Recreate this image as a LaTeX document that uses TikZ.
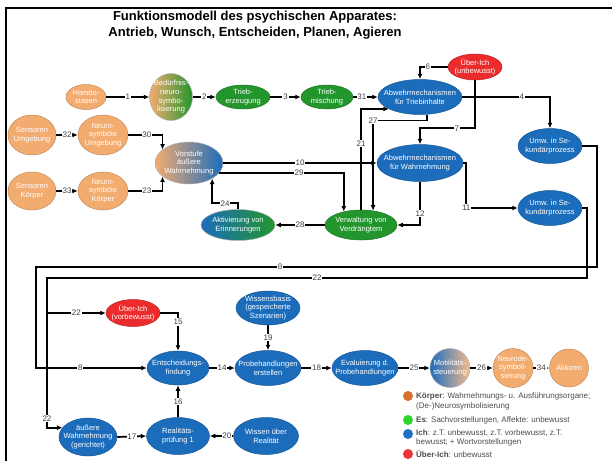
\documentclass[tikz,border=0pt]{standalone}
\usepackage{fontspec}
\setmainfont{Liberation Sans}
\usetikzlibrary{shapes.geometric,arrows.meta,calc}

\definecolor{ichblue}{RGB}{28,108,188}
\definecolor{esgreen}{RGB}{34,150,44}
\definecolor{peach}{RGB}{243,172,112}
\definecolor{ueberred}{RGB}{236,44,44}
\definecolor{legorange}{RGB}{214,112,40}
\definecolor{leggreen}{RGB}{46,214,46}
\definecolor{legblue}{RGB}{30,112,196}
\definecolor{legred}{RGB}{236,52,52}

% name, x, y, width, height, style, text
\newcommand\bubble[7]{\node[#6, minimum width=#4, minimum height=#5, label={[btxt]center:{#7}}] (#1) at (#2,#3) {};}

\begin{document}
\begin{tikzpicture}[x=1pt, y=-1pt,
  bub/.style={ellipse, inner sep=0pt, line width=0.5pt},
  sBody/.style={bub, fill=peach, draw=peach!80!black},
  sEs/.style={bub, fill=esgreen, draw=esgreen!80!black},
  sIch/.style={bub, fill=ichblue, draw=ichblue!80!black},
  sUeber/.style={bub, fill=ueberred, draw=ueberred!80!black},
  sBodyEs/.style={bub, left color=peach, right color=esgreen, draw=black!30},
  sBodyIch/.style={bub, left color=peach, right color=ichblue, draw=black!30},
  sIchBody/.style={bub, left color=ichblue, right color=peach!80!white, draw=black!30},
  sIchEs/.style={bub, left color=ichblue, right color=esgreen, draw=black!30},
  btxt/.style={text=white, align=center, inner sep=0pt, font=\fontsize{7.5}{8.7}\selectfont},
  conn/.style={line width=1.7pt, -{Latex[length=5.5pt,width=5pt]}},
  elab/.style={fill=white, inner sep=0.8pt, text=black!75, font=\fontsize{8}{9}\selectfont},
  legdot/.style={circle, inner sep=0pt, minimum size=10pt},
  legtxt/.style={anchor=west, inner sep=0pt, text=black!70, font=\fontsize{8}{9}\selectfont},
]
\useasboundingbox (0,0) rectangle (612,461);
\fill[white] (0,0) rectangle (612,461);

% frame
\draw[line width=2pt] (5.5,461) -- (5.5,8) -- (612,8);

% title
\node[font=\bfseries\fontsize{13}{16}\selectfont, align=center] (title) at (255,25)
  {Funktionsmodell des psychischen Apparates:\\Antrieb, Wunsch, Entscheiden, Planen, Agieren};

% upper part: drives and defence
\bubble{homo}{86}{97}{40}{25}{sBody}{Homöo-\\stasen}
\bubble{bed}{171}{97}{43}{47}{sBodyEs}{Bedürfnis-\\neuro-\\symbo-\\lisierung}
\bubble{te}{243}{97}{54}{24}{sEs}{Trieb-\\erzeugung}
\bubble{tm}{327}{97}{52}{24}{sEs}{Trieb-\\mischung}
\bubble{abt}{420}{97}{84}{35}{sIch}{Abwehrmechanismen\\für Triebinhalte}
\bubble{ui}{475}{67}{54}{26}{sUeber}{Über-Ich\\(unbewusst)}
\bubble{us1}{550}{146}{64}{35}{sIch}{Umw. in Se-\\kundärprozess}
\bubble{abw}{420}{163}{86}{37}{sIch}{Abwehrmechanismen\\für Wahrnehmung}
\bubble{us2}{550}{208}{64}{35}{sIch}{Umw. in Se-\\kundärprozess}
\bubble{ver}{361}{225}{72}{30}{sEs}{Verwaltung von\\Verdrängtem}
\bubble{akt}{238}{225}{74}{31}{sIchEs}{Aktivierung von\\Erinnerungen}
\bubble{vor}{189}{163}{68}{42}{sBodyIch}{Vorstufe\\äußere\\Wahrnehmung}
\bubble{seu}{32}{135}{48}{40}{sBody}{Sensoren\\Umgebung}
\bubble{nsu}{103}{135}{50}{40}{sBody}{Neuro-\\symbole\\Umgebung}
\bubble{sek}{32}{191}{48}{38}{sBody}{Sensoren\\Körper}
\bubble{nsk}{103}{191}{50}{38}{sBody}{Neuro-\\symbole\\Körper}

% lower part: decision and action
\bubble{uiv}{133}{313}{54}{27}{sUeber}{Über-Ich\\(vorbewusst)}
\bubble{wb}{268}{308}{64}{34}{sIch}{Wissensbasis\\(gespeicherte\\Szenarien)}
\bubble{ent}{178}{368}{62}{34}{sIch}{Entscheidungs-\\findung}
\bubble{pe}{268}{368}{66}{35}{sIch}{Probehandlungen\\erstellen}
\bubble{ev}{365}{368}{66}{35}{sIch}{Evaluierung d.\\Probehandlungen}
\bubble{mot}{450}{368}{40}{39}{sIchBody}{Motilitäts-\\steuerung}
\bubble{nds}{513}{368}{40}{39}{sBody}{Neurode-\\symboli-\\sierung}
\bubble{aktr}{569}{368}{39}{38}{sBody}{Aktoren}
\bubble{aw}{88}{437}{58}{38}{sIch}{äußere\\Wahrnehmung\\(gerichtet)}
\bubble{rp}{178}{436}{63}{37}{sIch}{Realitäts-\\prüfung 1}
\bubble{wu}{266}{436}{65}{37}{sIch}{Wissen über\\Realität}

% connectors, upper part
\draw[conn] (homo.east) -- node[elab]{1} (bed.west);
\draw[conn] (bed.east) -- node[elab]{2} (te.west);
\draw[conn] (te.east) -- node[elab]{3} (tm.west);
\draw[conn] (tm.east) -- node[elab,pos=0.35]{31} (abt.west);
\draw[conn] (ui.west) -| node[elab,pos=0.36]{6} (abt.north);
\draw[conn] (ui.south) |- node[elab,pos=0.665]{7} ($(abw.north)+(0,-16)$) -- (abw.north);
\draw[conn] (abt.east) -| node[elab,pos=0.34]{4} (us1.north);
\draw[conn] (vor.east) -- node[elab]{10} (abw.west);
\draw[conn] (vor.-18) -| node[elab,pos=0.32]{29} (ver.142);
\draw[conn] (ver.north) |- node[elab,pos=0.33]{21} (abt.201);
\draw[conn] (abt.-68) -- ++(0,6) -| node[elab,pos=0.5]{27} (ver.50);
\draw[conn] (abw.south) |- node[elab,pos=0.37]{12} (ver.east);
\draw[conn] (abw.east) -- ++(3,0) |- node[elab,pos=0.5]{11} (us2.west);
\draw[conn] (ver.west) -- node[elab]{28} (akt.east);
\draw[conn] (akt.north) -- ++(0,-6) -| node[elab,pos=0.25]{24} (vor.-34);
\draw[conn] (nsu.east) -| node[elab,pos=0.27]{30} (vor.153);
\draw[conn] (nsk.east) -| node[elab,pos=0.27]{23} (vor.207);
\draw[conn] (seu.east) -- node[elab]{32} (nsu.west);
\draw[conn] (sek.east) -- node[elab]{33} (nsk.west);

% long returns into the lower part
\coordinate (r8) at (597,267);
\coordinate (l8) at (36,267);
\coordinate (r22) at (587,278);
\coordinate (l22) at (47,278);
\coordinate (b22) at (47,313);
\draw[conn] (us1.east) -| (r8) -- node[elab,pos=0.565]{8} (l8) |- node[elab,pos=0.7]{8} (ent.west);
\draw[conn] (us2.east) -| (r22) -- node[elab]{22} (l22) |- node[elab,pos=0.47]{22} (aw.160);
\draw[conn] (b22) -- node[elab]{22} (uiv.west);

% connectors, lower part
\draw[conn] (uiv.east) -| node[elab,pos=0.62]{15} (ent.north);
\draw[conn] (wb.south) -- node[elab]{19} (pe.north);
\draw[conn] (rp.north) -- node[elab]{16} (ent.south);
\draw[conn] (ent.east) -- node[elab]{14} (pe.west);
\draw[conn] (pe.east) -- node[elab]{18} (ev.west);
\draw[conn] (ev.east) -- node[elab]{25} (mot.west);
\draw[conn] (mot.east) -- node[elab]{26} (nds.west);
\draw[conn] (nds.east) -- node[elab]{34} (aktr.west);
\draw[conn] (aw.east) -- node[elab]{17} (rp.west);
\draw[conn] (wu.west) -- node[elab,pos=0.27]{20} (rp.east);

% legend
\node[legdot, fill=legorange] (dk) at (408,396) {};
\node[legtxt] (tk) at (416,396) {\textbf{Körper}: Wahrnehmungs- u. Ausführungsorgane;};
\node[legtxt] (tk2) at (416,406) {(De-)Neurosymbolisierung};
\node[legdot, fill=leggreen] (de) at (408,420) {};
\node[legtxt] (te2) at (416,420) {\textbf{Es}: Sachvorstellungen, Affekte: unbewusst};
\node[legdot, fill=legblue] (di) at (408,434) {};
\node[legtxt] (ti) at (416,433) {\textbf{Ich}: z.T. unbewusst, z.T. vorbewusst, z.T.};
\node[legtxt] (ti2) at (416,442) {bewusst; + Wortvorstellungen};
\node[legdot, fill=legred] (du) at (408,454) {};
\node[legtxt] (tu) at (416,454) {\textbf{Über-Ich}: unbewusst};
\end{tikzpicture}
\end{document}
